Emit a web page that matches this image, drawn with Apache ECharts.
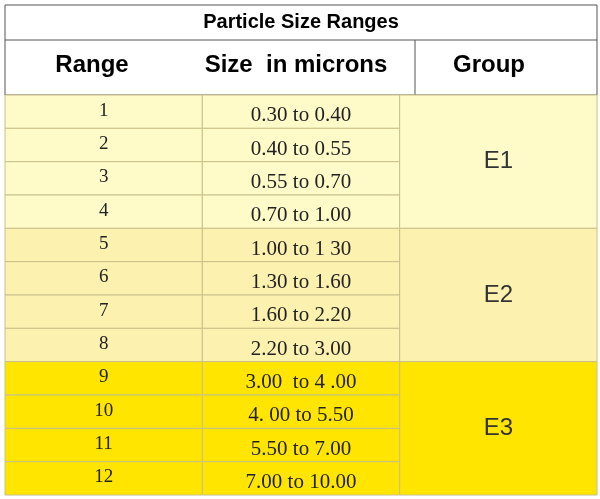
<!DOCTYPE html>
<html><head><meta charset="utf-8">
<script src="https://cdn.jsdelivr.net/npm/echarts@6/dist/echarts.min.js"></script>
<style>html,body{margin:0;background:#fff}#c{width:600px;height:499px}</style>
</head><body><div id="c"></div>
<script>
const title = 'Particle Size Ranges';
const headers = ['Range', 'Size  in microns', 'Group'];
const ranges = ['1','2','3','4','5','6','7','8','9','10','11','12'];
const sizes = ['0.30 to 0.40','0.40 to 0.55','0.55 to 0.70','0.70 to 1.00','1.00 to 1 30','1.30 to 1.60','1.60 to 2.20','2.20 to 3.00','3.00  to 4 .00','4. 00 to 5.50','5.50 to 7.00','7.00 to 10.00'];
const groups = [{name:'E1', from:0, to:3}, {name:'E2', from:4, to:7}, {name:'E3', from:8, to:11}];
const groupColors = ['#fefbc9', '#fdf1b0', '#ffe500'];

const chart = echarts.init(document.getElementById('c'));
const cellData = [];
ranges.forEach((r, i) => {
  const g = groups.findIndex(g => i >= g.from && i <= g.to);
  cellData.push([0, i, r, g]);
  cellData.push([1, i, sizes[i], g]);
});
const groupData = groups.map((g, k) => [2, g.from, g.to, g.name, k]);

chart.setOption({
  animation: false,
  grid: {left: 5, right: 3, top: 95, bottom: 4},
  xAxis: {type: 'category', data: headers, show: false},
  yAxis: {type: 'category', data: ranges, inverse: true, show: false},
  graphic: [
    {type: 'rect', shape: {x: 5, y: 5, width: 592, height: 90}, style: {fill: '#fff', stroke: '#555', lineWidth: 1}},
    {type: 'line', shape: {x1: 5, y1: 40, x2: 597, y2: 40}, style: {stroke: '#555', lineWidth: 1}},
    {type: 'line', shape: {x1: 415, y1: 40, x2: 415, y2: 95}, style: {stroke: '#555', lineWidth: 1}},
    {type: 'text', x: 301, y: 22, style: {text: title, font: 'bold 20px Liberation Sans', fill: '#000', align: 'center', verticalAlign: 'middle'}},
    {type: 'text', x: 92, y: 65, style: {text: headers[0], font: 'bold 24px Liberation Sans', fill: '#000', align: 'center', verticalAlign: 'middle'}},
    {type: 'text', x: 296, y: 65, style: {text: headers[1], font: 'bold 24px Liberation Sans', fill: '#000', align: 'center', verticalAlign: 'middle'}},
    {type: 'text', x: 489, y: 65, style: {text: headers[2], font: 'bold 24px Liberation Sans', fill: '#000', align: 'center', verticalAlign: 'middle'}}
  ],
  series: [
    {
      type: 'custom', data: cellData,
      renderItem: (params, api) => {
        const d = cellData[params.dataIndex];
        const c = api.coord([d[0], d[1]]);
        const s = api.size([1, 1]);
        const g = d[3];
        const col = d[0];
        return {type: 'group', children: [
          {type: 'rect', shape: {x: c[0] - s[0]/2, y: c[1] - s[1]/2, width: s[0], height: s[1]},
           style: {fill: groupColors[g], stroke: '#c9c08a', lineWidth: 1}},
          {type: 'text', x: c[0], y: c[1] + (col === 0 ? -1 : 4),
           style: {text: d[2], font: (col === 0 ? '19px' : '21px') + ' Liberation Serif', fill: '#222', align: 'center', verticalAlign: 'middle'}}
        ]};
      }
    },
    {
      type: 'custom', data: groupData,
      renderItem: (params, api) => {
        const d = groupData[params.dataIndex];
        const a = api.coord([d[0], d[1]]);
        const b = api.coord([d[0], d[2]]);
        const s = api.size([1, 1]);
        const k = d[4];
        const y0 = a[1] - s[1]/2, y1 = b[1] + s[1]/2;
        return {type: 'group', children: [
          {type: 'rect', shape: {x: a[0] - s[0]/2, y: y0, width: s[0], height: y1 - y0},
           style: {fill: groupColors[k], stroke: '#c9c08a', lineWidth: 1}},
          {type: 'text', x: a[0], y: (y0 + y1)/2,
           style: {text: d[3], font: '24px Liberation Sans', fill: '#333', align: 'center', verticalAlign: 'middle'}}
        ]};
      }
    }
  ]
});
</script></body></html>
